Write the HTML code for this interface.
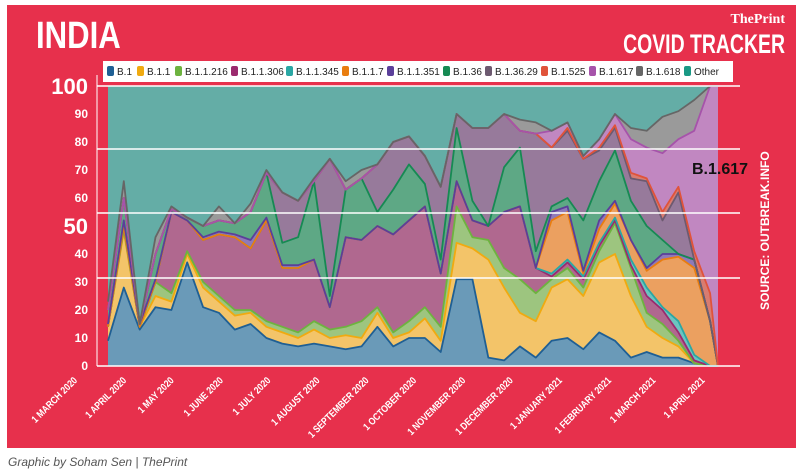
<!DOCTYPE html>
<html><head><meta charset="utf-8"><style>
html,body{margin:0;padding:0;background:#fff;}
body{width:802px;height:474px;position:relative;overflow:hidden;font-family:"Liberation Sans",sans-serif;}
svg{position:absolute;left:0;top:0;}
</style></head><body>
<svg id="chart" width="802" height="474" viewBox="0 0 802 474">
  <rect x="7" y="5" width="789" height="443" fill="#e7304c"/>
  <text x="36" y="48" fill="#fff" font-size="38" font-weight="bold" transform="translate(36 0) scale(0.82 1) translate(-36 0)">INDIA</text>
  <text x="785" y="23" fill="#fff" font-family="Liberation Serif,serif" font-weight="bold" font-size="14" text-anchor="end">ThePrint</text>
  <text x="785" y="53" fill="#fff" font-size="27" font-weight="bold" text-anchor="end" transform="translate(785 0) scale(0.72 1) translate(-785 0)">COVID TRACKER</text>
  <g id="plot"></g>
  <g id="legend"></g>
  <text x="692" y="174" fill="#111" font-size="16" font-weight="bold">B.1.617</text>
  <text x="0" y="0" fill="#fff" font-size="12" font-weight="bold" transform="translate(769 310) rotate(-90)">SOURCE: OUTBREAK.INFO</text>
  <text x="8" y="466" fill="#555" font-size="12" font-style="italic">Graphic by Soham Sen | ThePrint</text>
</svg>
<script>
const seriesNames=["B.1","B.1.1","B.1.1.216","B.1.1.306","B.1.1.345","B.1.1.7","B.1.1.351","B.1.36","B.1.36.29","B.1.525","B.1.617","B.1.618","Other"];
const b1    =[9,28,13,21,20,37,21,19,13,15,10,8,7,8,7,6,7,14,7,10,10,5,31,31,3,2,7,3,9,10,6,12,9,3,5,3,3,1,0,0];
const b11   =[5,20,1,4,3,3,7,4,5,4,4,4,3,5,3,5,3,5,3,2,7,4,13,11,35,26,12,13,19,21,19,25,31,22,9,7,4,0,0,0];
const b1216 =[0,1,0,5,3,1,2,2,2,1,2,2,2,3,3,3,6,2,2,4,4,5,13,4,7,7,12,10,3,4,3,4,11,10,5,5,2,0,0,0];
const b1306 =[0,1,0,0,29,11,15,22,26,22,36,21,23,22,8,32,29,29,35,36,36,19,9,6,5,20,26,9,1,2,3,2,1,1,6,5,3,1,0,0];
const b1345 =[0,0,0,0,0,0,0,0,0,0,0,0,0,0,0,0,0,0,0,0,0,0,0,0,0,0,0,0,1,1,1,1,1,2,3,1,4,2,0,0];
const b117  =[0,0,0,0,0,0,0,0,0,0,0,0,0,0,0,0,0,0,0,0,0,0,0,0,0,0,0,0,19,17,1,5,5,7,6,17,23,31,16,0];
const b1351 =[1,2,1,1,0,0,1,1,1,3,1,1,1,0,0,0,0,0,0,0,0,0,0,0,0,0,0,0,3,2,1,3,1,0,1,2,1,3,0,0];
const b136  =[5,8,0,9,1,1,4,4,4,10,16,8,10,28,4,17,22,5,16,20,8,5,19,7,0,16,21,6,2,3,18,14,18,14,15,5,0,0,0,0];
const b13629=[0,0,0,0,0,0,0,0,0,0,0,18,13,0,49,0,0,17,17,10,10,26,5,26,35,19,6,42,21,24,22,11,8,8,16,7,22,0,0,0];
const b525  =[0,0,0,0,0,0,0,0,0,0,0,0,0,0,0,0,0,0,0,0,0,0,0,0,0,0,0,0,0,1,0,1,1,2,1,3,2,3,10,0];
const b617  =[0,0,0,0,0,0,0,0,0,0,0,0,0,0,0,0,0,0,0,0,0,0,0,0,0,0,0,0,6,2,1,3,4,12,11,21,17,43,74,100];
const b618  =[3,6,0,6,1,0,0,5,0,3,1,0,0,1,0,3,3,0,0,0,0,0,0,0,0,0,4,4,0,0,0,0,0,4,6,13,10,11,0,0];
const dayOffsets=[0,10,20,30,40,50,60,70,80,90,100,110,120,130,140,150,160,170,180,190,200,210,220,230,240,250,260,270,280,290,300,310,320,330,340,350,360,370,380,385];
const yTicks=[0,10,20,30,40,50,60,70,80,90,100];
const xTickLabels=["1 MARCH 2020","1 APRIL 2020","1 MAY 2020","1 JUNE 2020","1 JULY 2020","1 AUGUST 2020","1 SEPTEMBER 2020","1 OCTOBER 2020","1 NOVEMBER 2020","1 DECEMBER 2020","1 JANUARY 2021","1 FEBRUARY 2021","1 MARCH 2021","1 APRIL 2021"];
const xTickDays=[-19,12,42,73,103,134,165,195,226,256,287,318,346,377];

const fills=["#6a9ab8","#f3c469","#9dc57f","#b0688f","#6cc4c0","#eba060","#8f7ab8","#5ea885","#977a9b","#d97c70","#c187c1","#9a9a9a","#64ada6"];
const lines=["#1f5f94","#f0aa10","#6db33f","#9b2a6e","#2aa7a4","#e97d10","#5b3f9a","#168a53","#6d5a70","#e0533a","#a653aa","#666666",null];
const seriesData=[b1,b11,b1216,b1306,b1345,b117,b1351,b136,b13629,b525,b617,b618];

const X0=108,PX=610/385,Y0=366,PY=2.8;
const xs=d=>X0+d*PX;
const ys=v=>Y0-v*PY;
const NS="http://www.w3.org/2000/svg";
function mk(tag,attrs,parent){const e=document.createElementNS(NS,tag);for(const k in attrs)e.setAttribute(k,attrs[k]);parent.appendChild(e);return e;}
const plot=document.getElementById('plot');

// plot base
const pbg=mk('rect',{x:97,y:85,width:643,height:281,fill:"#e7304c"},plot);



// cumulative
let cum=dayOffsets.map(()=>0);
const tops=[];
seriesData.forEach(s=>{const prev=cum.slice();cum=cum.map((c,i)=>c+s[i]);tops.push({prev,top:cum.slice()});});
// Other fills to 100
tops.push({prev:cum.slice(),top:dayOffsets.map(()=>100)});

tops.forEach((t,k)=>{
  const up=dayOffsets.map((d,i)=>xs(d).toFixed(1)+","+ys(t.top[i]).toFixed(1));
  const dn=dayOffsets.map((d,i)=>xs(d).toFixed(1)+","+ys(t.prev[i]).toFixed(1)).reverse();
  const a=mk('polygon',{points:up.concat(dn).join(" "),fill:fills[k],stroke:"none"},plot);
  
  
});
tops.forEach((t,k)=>{
  if(!lines[k])return;
  const up=dayOffsets.map((d,i)=>xs(d).toFixed(1)+","+ys(t.top[i]).toFixed(1));
  const l=mk('polyline',{points:up.join(" "),fill:"none",stroke:lines[k],"stroke-width":1.8,"stroke-linejoin":"round"},plot);
  
  
});

// grid lines
[ys(100),149,213,278].forEach((y,i)=>{
  const g=mk('line',{x1:97,x2:740,y1:y,y2:y,stroke:"#fff","stroke-width":1.5},plot);
  
  
});
const ax=mk('line',{x1:97,x2:740,y1:Y0,y2:Y0,stroke:"#fff","stroke-width":1.5},plot);


const ay=mk('line',{x1:97,x2:97,y1:75,y2:Y0,stroke:"#fff","stroke-width":1},plot);



// y tick labels
yTicks.forEach(v=>{
  const big=(v===100||v===50);
  const t=mk('text',{x:88,y:ys(v)+(big?8:4),fill:"#fff","font-size":big?22:12,"font-weight":"bold","text-anchor":"end"},plot);
  t.textContent=v;
  
  
});
// x tick labels
xTickLabels.forEach((lab,i)=>{
  const x=xs(xTickDays[i]);
  const t=mk('text',{x:0,y:0,fill:"#fff","font-size":10,"font-weight":"bold","text-anchor":"end",transform:`translate(${x.toFixed(1)} 381) rotate(-45) scale(0.85 1)`},plot);
  t.textContent=lab;
  
  
});

// legend
const lg=document.getElementById('legend');
const lbox=mk('rect',{x:103,y:61,width:630,height:21,fill:"#fff"},lg);


mk('line',{x1:103,x2:740,y1:83,y2:83,stroke:"#e7304c","stroke-width":1},lg);
const legX=[107,137,175,231,286,342,387,443,485,541,589,636,684];
seriesNames.forEach((n,k)=>{
  const g=mk('g',{},lg);
  
  
  mk('rect',{x:legX[k],y:66,width:7,height:10,rx:2,fill:lines[k]||"#1a9985"},g);
  const t=mk('text',{x:legX[k]+10,y:75,"font-size":10,fill:"#222"},g);
  t.textContent=n;
});
</script>
</body></html>
